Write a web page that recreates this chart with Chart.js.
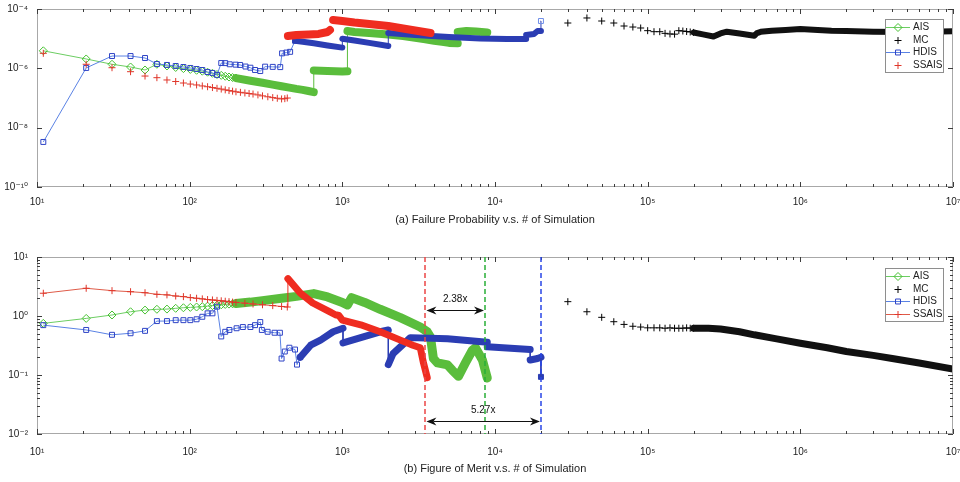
<!DOCTYPE html>
<html>
<head>
<meta charset="utf-8">
<script src="https://cdn.jsdelivr.net/npm/chart.js@4.4.0/dist/chart.umd.min.js"></script>
<style>
  html, body { margin: 0; padding: 0; background: #fff; }
  .plot { position: relative; width: 960px; }
  #top { height: 240px; }
  #bottom { height: 242px; }
</style>
</head>
<body>
<div class="plot" id="top"><canvas id="probChart"></canvas></div>
<div class="plot" id="bottom"><canvas id="meritChart"></canvas></div>
<script>
// axes
const xTickValues = [1e1, 1e2, 1e3, 1e4, 1e5, 1e6, 1e7];
const xTickLabels = ["10¹", "10²", "10³", "10⁴", "10⁵", "10⁶", "10⁷"];
const probTickValues = [1e-10, 1e-8, 1e-6, 1e-4];
const probTickLabels = ["10⁻¹⁰", "10⁻⁸", "10⁻⁶", "10⁻⁴"];
const meritTickValues = [1e-2, 1e-1, 1e0, 1e1];
const meritTickLabels = ["10⁻²", "10⁻¹", "10⁰", "10¹"];

// (a) failure probability
const earlyX = [11, 21, 31, 41, 51, 61, 71, 81, 91, 101, 111, 121, 131, 141, 151, 161, 171, 181, 191, 201];
const aisTopY = [3.9e-6, 2.07e-6, 1.37e-6, 1.11e-6, 8.8e-7, 1.37e-6, 1.2e-6, 1.07e-6, 9.8e-7, 9.2e-7, 8.6e-7, 8.0e-7, 7.4e-7, 6.8e-7, 6.2e-7, 5.8e-7, 5.4e-7, 5.1e-7, 4.9e-7, 4.7e-7];
const aisTopBandX = [201, 250, 300, 350, 400, 450, 500, 550, 600, 650, 650, 800, 1000, 1080, 1080, 1200, 1500, 2000, 2500, 3000, 3500, 4000, 4500, 5000, 5700, 5700, 6500, 7500, 8900];
const aisTopBandY = [4.7e-7, 3.83e-7, 3.26e-7, 2.81e-7, 2.5e-7, 2.24e-7, 2.03e-7, 1.88e-7, 1.72e-7, 1.57e-7, 8.5e-7, 8.2e-7, 7.8e-7, 8.0e-7, 1.81e-5, 1.68e-5, 1.55e-5, 1.38e-5, 1.23e-5, 1.08e-5, 9.6e-6, 8.5e-6, 7.8e-6, 7.2e-6, 7.0e-6, 1.68e-5, 1.81e-5, 1.74e-5, 1.62e-5];

const hdisTopX = [11, 21, 31, 41, 51, 61, 71, 81, 91, 101, 111, 121, 131, 141, 151, 161, 171, 183, 200, 214, 232, 250, 268, 290, 312, 350, 392, 403, 430, 455, 490];
const hdisTopY = [3.3e-9, 1.03e-6, 2.6e-6, 2.6e-6, 2.23e-6, 1.4e-6, 1.3e-6, 1.2e-6, 1.11e-6, 1.03e-6, 9.5e-7, 8.8e-7, 7.5e-7, 7.0e-7, 6.0e-7, 1.51e-6, 1.5e-6, 1.37e-6, 1.33e-6, 1.3e-6, 1.15e-6, 1.05e-6, 8.8e-7, 8.1e-7, 1.14e-6, 1.12e-6, 1.1e-6, 3.2e-6, 3.4e-6, 3.6e-6, 8.5e-6];
const hdisTopBandX = [490, 550, 650, 800, 1000, 1000, 1200, 1500, 2000, 2000, 3000, 5000, 8000, 12000, 16000, 16000, 18000, 19000, 20000, 20000];
const hdisTopBandY = [8.5e-6, 7.9e-6, 7.0e-6, 5.9e-6, 5.0e-6, 1.0e-5, 8.7e-6, 7.2e-6, 5.66e-6, 1.55e-5, 1.33e-5, 1.14e-5, 1.02e-5, 9.8e-6, 9.8e-6, 1.33e-5, 1.44e-5, 1.81e-5, 1.81e-5, 3.94e-5];

const ssaisTopX = [...earlyX, 215, 230, 245, 260, 280, 300, 325, 350, 375, 400, 420, 436];
const ssaisTopY = [3.21e-6, 1.37e-6, 1.05e-6, 7.7e-7, 5.5e-7, 4.84e-7, 4.05e-7, 3.6e-7, 3.2e-7, 2.95e-7, 2.75e-7, 2.55e-7, 2.4e-7, 2.25e-7, 2.12e-7, 2.0e-7, 1.88e-7, 1.78e-7, 1.7e-7, 1.62e-7, 1.55e-7, 1.48e-7, 1.42e-7, 1.36e-7, 1.27e-7, 1.18e-7, 1.1e-7, 1.03e-7, 9.8e-8, 9.3e-8, 9.5e-8, 1.0e-7];
const ssaisTopBandX = [440, 500, 600, 700, 800, 830, 850, 870, 1000, 1200, 1500, 2000, 2500, 3000, 3780];
const ssaisTopBandY = [1.23e-5, 1.33e-5, 1.38e-5, 1.44e-5, 1.68e-5, 1.96e-5, null, 4.26e-5, 3.94e-5, 3.5e-5, 3.12e-5, 2.67e-5, 2.2e-5, 1.89e-5, 1.55e-5];

const mcX = [30000, 40000, 50000, 60000, 70000, 80000, 90000, 100000, 110000, 120000, 130000, 140000, 150000, 160000, 170000, 180000, 190000, 200000];
const mcTopY = [3.37e-5, 4.98e-5, 3.94e-5, 3.37e-5, 2.67e-5, 2.47e-5, 2.29e-5, 1.86e-5, 1.72e-5, 1.72e-5, 1.51e-5, 1.44e-5, 1.42e-5, 1.86e-5, 1.81e-5, 1.74e-5, 1.68e-5, 1.62e-5];
const mcTopBandX = [200000, 230000, 270000, 300000, 330000, 400000, 500000, 520000, 550000, 650000, 800000, 1e6, 1.3e6, 1.6e6, 2e6, 3e6, 5e6, 7e6, 1e7];
const mcTopBandY = [1.62e-5, 1.4e-5, 1.18e-5, 1.5e-5, 1.72e-5, 1.5e-5, 1.25e-5, 1.55e-5, 1.7e-5, 1.85e-5, 1.95e-5, 2.1e-5, 1.95e-5, 1.85e-5, 1.8e-5, 1.72e-5, 1.68e-5, 1.72e-5, 1.78e-5];

// (b) figure of merit
const aisBotY = [0.75, 0.91, 1.04, 1.18, 1.26, 1.30, 1.31, 1.35, 1.38, 1.40, 1.42, 1.44, 1.47, 1.50, 1.53, 1.55, 1.57, 1.59, 1.61, 1.63];
const aisBotBandX = [201, 250, 300, 400, 500, 650, 800, 1000, 1080, 1150, 1400, 1770, 2400, 3240, 3600, 3780, 3950, 4200, 4890, 5260, 5760, 6400, 7120, 7450, 8270, 8900];
const aisBotBandY = [1.63, 1.72, 1.82, 2.0, 2.15, 2.4, 2.1, 1.7, 1.53, 2.05, 1.7, 1.3, 0.94, 0.65, 0.54, 0.44, 0.19, 0.16, 0.148, 0.12, 0.095, 0.16, 0.265, 0.29, 0.18, 0.089];

const ssaisBotX = [...earlyX, 230, 260, 300, 350, 400, 436];
const ssaisBotY = [2.43, 2.95, 2.69, 2.58, 2.48, 2.33, 2.28, 2.18, 2.13, 2.05, 2.0, 1.95, 1.9, 1.87, 1.84, 1.81, 1.78, 1.75, 1.72, 1.7, 1.65, 1.6, 1.55, 1.5, 1.45, 1.42];
const ssaisBotBandX = [436, 440, 530, 640, 830, 900, 950, 1000, 1320, 1770, 2400, 2900, 3240, 3400, 3600];
const ssaisBotBandY = [1.42, 4.3, 2.45, 1.66, 1.17, 1.05, 1.02, 0.85, 0.71, 0.54, 0.39, 0.32, 0.29, 0.16, 0.09];

const hdisBotX = [11, 21, 31, 41, 51, 61, 71, 81, 91, 101, 111, 121, 131, 141, 151, 161, 171, 182, 203, 223, 250, 268, 290, 297, 324, 360, 390, 400, 420, 450, 490, 505, 530];
const hdisBotY = [0.70, 0.58, 0.48, 0.51, 0.56, 0.82, 0.82, 0.85, 0.85, 0.85, 0.88, 0.97, 1.11, 1.11, 1.44, 0.45, 0.54, 0.58, 0.62, 0.65, 0.65, 0.70, 0.79, 0.58, 0.54, 0.52, 0.52, 0.19, 0.25, 0.29, 0.27, 0.15, 0.20];
const hdisBotBandX = [530, 620, 720, 870, 1010, 1010, 1320, 1770, 2000, 2000, 2150, 2400, 2790, 4890, 8900, 8900, 17000, 17000, 19000, 20000, 20000];
const hdisBotBandY = [0.20, 0.32, 0.39, 0.54, 0.62, 0.35, 0.43, 0.54, 0.58, 0.15, 0.23, 0.30, 0.43, 0.41, 0.36, 0.30, 0.27, 0.18, 0.19, 0.20, 0.093];

const mcBotY = [1.75, 1.18, 0.95, 0.80, 0.72, 0.67, 0.65, 0.63, 0.63, 0.63, 0.62, 0.63, 0.62, 0.62, 0.62, 0.63, 0.62, 0.62];
const mcBotBandX = [200000, 250000, 300000, 400000, 500000, 700000, 1e6, 1.5e6, 2e6, 3e6, 4e6, 6e6, 1e7];
const mcBotBandY = [0.62, 0.62, 0.60, 0.54, 0.48, 0.41, 0.345, 0.29, 0.25, 0.215, 0.19, 0.16, 0.126];

// speed-up markers in (b)
const markX = [3500, 8600, 20000];
const arrowY = [1.26, 0.0166];
const arrowLabels = ["2.38x", "5.27x"];

const AIS_MARK = "#46c230", AIS_LINE = "#6ccd62", AIS_BAND = "#5abd3c";
const HDIS_MARK = "#2f44c6", HDIS_LINE = "#5a82e4", HDIS_BAND = "#2b3db3";
const SSAIS_MARK = "#e0362a", SSAIS_LINE = "#df5b48", SSAIS_BAND = "#ef2c20";
const FONT = "'Liberation Sans', Arial, 'DejaVu Sans', sans-serif";

Chart.defaults.font.family = FONT;
Chart.defaults.color = "#222";

const pts = (xs, ys) => xs.map((x, i) => ({ x: x, y: ys[i] }));

function markerSet(label, xs, ys, color, lineColor, style, showLine, order) {
  return {
    label: label, data: pts(xs, ys), order: order,
    showLine: showLine, borderColor: lineColor, borderWidth: 1,
    pointStyle: style, pointRadius: style === "rectRot" ? 4 : 3.5,
    pointBorderColor: color, pointBackgroundColor: "rgba(0,0,0,0)", pointBorderWidth: 1
  };
}

function bandSet(xs, ys, color, width, order, end) {
  const last = xs.length - 1;
  return {
    label: "", data: pts(xs, ys), order: order,
    borderColor: color, borderWidth: width,
    borderCapStyle: "round", borderJoinStyle: "round", spanGaps: false,
    pointStyle: end ? end.style : "circle",
    pointRadius: end ? (c => c.dataIndex === last ? 3.5 : 0) : 0,
    pointBorderColor: end ? end.color : color,
    pointBackgroundColor: end && end.fill ? end.color : "rgba(0,0,0,0)",
    pointBorderWidth: 1,
    segment: { borderWidth: c => Math.abs(c.p1.x - c.p0.x) < 1 ? 1 : width }
  };
}

const frame = {
  id: "frame",
  afterDatasetsDraw(chart, args, o) {
    const { ctx, chartArea: a } = chart;
    const sx = chart.scales.x, sy = chart.scales.y;
    ctx.save();
    ctx.lineWidth = 1;
    ctx.strokeStyle = "#a8a8a8";
    ctx.strokeRect(a.left + 0.5, a.top + 0.5, a.right - a.left - 1, a.bottom - a.top - 1);
    ctx.strokeStyle = "#3c3c3c";
    ctx.beginPath();
    const vx = (v, len) => {
      const p = Math.round(sx.getPixelForValue(v)) + 0.5;
      ctx.moveTo(p, a.bottom); ctx.lineTo(p, a.bottom - len);
      ctx.moveTo(p, a.top); ctx.lineTo(p, a.top + len);
    };
    const hy = (v, len) => {
      const p = Math.round(sy.getPixelForValue(v)) + 0.5;
      ctx.moveTo(a.left, p); ctx.lineTo(a.left + len, p);
      ctx.moveTo(a.right, p); ctx.lineTo(a.right - len, p);
    };
    xTickValues.forEach((d, i) => {
      vx(d, 5);
      if (i < xTickValues.length - 1) for (let k = 2; k < 10; k++) vx(k * d, 3);
    });
    const ym = o.yMajor;
    ym.forEach((d, i) => {
      hy(d, 5);
      if (o.yMinor && i < ym.length - 1) for (let k = 2; k < 10; k++) hy(k * d, 3);
    });
    ctx.stroke();
    ctx.restore();
  }
};

const insideLegend = {
  id: "insideLegend",
  afterDraw(chart, args, o) {
    const { ctx, chartArea: a } = chart;
    const items = chart.data.datasets.filter(d => d.label);
    const w = 58, h = 53, bx = a.right - 10 - w, by = a.top + o.top;
    ctx.save();
    ctx.fillStyle = "#fff";
    ctx.fillRect(bx, by, w, h);
    ctx.strokeStyle = "#8e8e8e";
    ctx.lineWidth = 1;
    ctx.strokeRect(bx + 0.5, by + 0.5, w, h);
    ctx.font = "10px " + FONT;
    ctx.textBaseline = "middle";
    items.forEach((d, i) => {
      const cy = Math.round(by + 8 + i * 12.6) + 0.5;
      if (d.showLine) {
        ctx.strokeStyle = d.borderColor;
        ctx.beginPath(); ctx.moveTo(bx + 1, cy); ctx.lineTo(bx + 25, cy); ctx.stroke();
      }
      ctx.strokeStyle = d.pointBorderColor;
      ctx.fillStyle = "rgba(0,0,0,0)";
      Chart.helpers.drawPoint(ctx, { pointStyle: d.pointStyle, radius: d.pointRadius, borderWidth: 1, rotation: 0 }, bx + 13, cy);
      ctx.fillStyle = "#222";
      ctx.fillText(d.label, bx + 28, cy);
    });
    ctx.restore();
  }
};

function arrowHead(ctx, x, y, dir) {
  ctx.beginPath();
  ctx.moveTo(x, y);
  ctx.lineTo(x + dir * 10, y - 4);
  ctx.lineTo(x + dir * 7, y);
  ctx.lineTo(x + dir * 10, y + 4);
  ctx.closePath();
  ctx.fill();
}

const speedup = {
  id: "speedup",
  afterDatasetsDraw(chart) {
    const { ctx, chartArea: a } = chart;
    const sx = chart.scales.x, sy = chart.scales.y;
    const colors = ["rgb(235,70,70)", "rgb(40,175,55)", "rgb(40,70,230)"];
    ctx.save();
    ctx.lineWidth = 1.5;
    ctx.setLineDash([5, 3]);
    markX.forEach((v, i) => {
      const p = Math.round(sx.getPixelForValue(v));
      ctx.strokeStyle = colors[i];
      ctx.beginPath(); ctx.moveTo(p, a.top); ctx.lineTo(p, a.bottom); ctx.stroke();
    });
    ctx.setLineDash([]);
    ctx.lineWidth = 1;
    ctx.strokeStyle = "#111";
    ctx.fillStyle = "#111";
    ctx.font = "10px " + FONT;
    ctx.textAlign = "center";
    ctx.textBaseline = "middle";
    arrowY.forEach((v, i) => {
      const x0 = sx.getPixelForValue(markX[0]) + 1;
      const x1 = sx.getPixelForValue(markX[i + 1]) - 1;
      const py = Math.round(sy.getPixelForValue(v)) + 0.5;
      ctx.beginPath(); ctx.moveTo(x0 + 7, py); ctx.lineTo(x1 - 7, py); ctx.stroke();
      arrowHead(ctx, x0, py, 1);
      arrowHead(ctx, x1, py, -1);
      ctx.fillText(arrowLabels[i], (x0 + x1) / 2, py - 11);
    });
    ctx.restore();
  }
};

function axes(yMin, yMax, yValues, yLabels, xHeight, title, titlePad, labelPad) {
  const tickFont = { size: 10 };
  return {
    x: {
      type: "logarithmic", min: 10, max: 1e7,
      afterBuildTicks: s => { s.ticks = xTickValues.map(v => ({ value: v })); },
      afterFit: s => { s.height = xHeight; s.paddingLeft = 0; s.paddingRight = 0; },
      grid: { display: false }, border: { display: false },
      ticks: { autoSkip: false, maxRotation: 0, padding: labelPad, font: tickFont,
        callback: v => xTickLabels[xTickValues.indexOf(v)] },
      title: { display: true, text: title, font: { size: 11 }, padding: { top: 0, bottom: titlePad } }
    },
    y: {
      type: "logarithmic", min: yMin, max: yMax,
      afterBuildTicks: s => { s.ticks = yValues.map(v => ({ value: v })); },
      afterFit: s => { s.width = 37; s.paddingTop = 0; s.paddingBottom = 0; },
      grid: { display: false }, border: { display: false },
      ticks: { autoSkip: false, padding: 1, font: tickFont,
        callback: v => yLabels[yValues.indexOf(v)] }
    }
  };
}

function baseOptions(padTop, scales, frameOpts, legendTop) {
  return {
    responsive: true, maintainAspectRatio: false, animation: false, events: [],
    layout: { padding: { top: padTop, right: 7, left: 0, bottom: 0 } },
    elements: { line: { tension: 0 } },
    plugins: { legend: { display: false }, tooltip: { enabled: false },
      frame: frameOpts, insideLegend: { top: legendTop } },
    scales: scales
  };
}

new Chart(document.getElementById("probChart"), {
  type: "line",
  data: {
    datasets: [
      markerSet("AIS", earlyX, aisTopY, AIS_MARK, AIS_LINE, "rectRot", true, 8),
      markerSet("MC", mcX, mcTopY, "#000", "#000", "cross", false, 4),
      markerSet("HDIS", hdisTopX, hdisTopY, HDIS_MARK, HDIS_LINE, "rect", true, 6),
      markerSet("SSAIS", ssaisTopX, ssaisTopY, SSAIS_MARK, SSAIS_LINE, "cross", false, 2),
      bandSet(aisTopBandX, aisTopBandY, AIS_BAND, 8, 7),
      bandSet(mcTopBandX, mcTopBandY, "#111", 6, 3),
      bandSet(hdisTopBandX, hdisTopBandY, HDIS_BAND, 6, 5, { style: "rect", color: "#6f8ee8" }),
      bandSet(ssaisTopBandX, ssaisTopBandY, SSAIS_BAND, 8, 1)
    ]
  },
  options: baseOptions(9,
    axes(1e-10, 1e-4, probTickValues, probTickLabels, 53,
      "(a) Failure Probability v.s. # of Simulation", 13.4, 1),
    { yMajor: probTickValues, yMinor: false }, 10),
  plugins: [frame, insideLegend]
});

new Chart(document.getElementById("meritChart"), {
  type: "line",
  data: {
    datasets: [
      markerSet("AIS", earlyX, aisBotY, AIS_MARK, AIS_LINE, "rectRot", true, 8),
      markerSet("MC", mcX, mcBotY, "#000", "#000", "cross", false, 4),
      markerSet("HDIS", hdisBotX, hdisBotY, HDIS_MARK, HDIS_LINE, "rect", true, 6),
      markerSet("SSAIS", ssaisBotX, ssaisBotY, SSAIS_MARK, SSAIS_LINE, "cross", true, 2),
      bandSet(aisBotBandX, aisBotBandY, AIS_BAND, 9, 7),
      bandSet(mcBotBandX, mcBotBandY, "#111", 7, 3),
      bandSet(hdisBotBandX, hdisBotBandY, HDIS_BAND, 7, 5, { style: "rect", color: HDIS_BAND, fill: true }),
      bandSet(ssaisBotBandX, ssaisBotBandY, SSAIS_BAND, 7, 1)
    ]
  },
  options: baseOptions(17,
    axes(1e-2, 1e1, meritTickValues, meritTickLabels, 48,
      "(b) Figure of Merit v.s. # of Simulation", 6.4, 4),
    { yMajor: meritTickValues, yMinor: true }, 11),
  plugins: [frame, insideLegend, speedup]
});
</script>
</body>
</html>
